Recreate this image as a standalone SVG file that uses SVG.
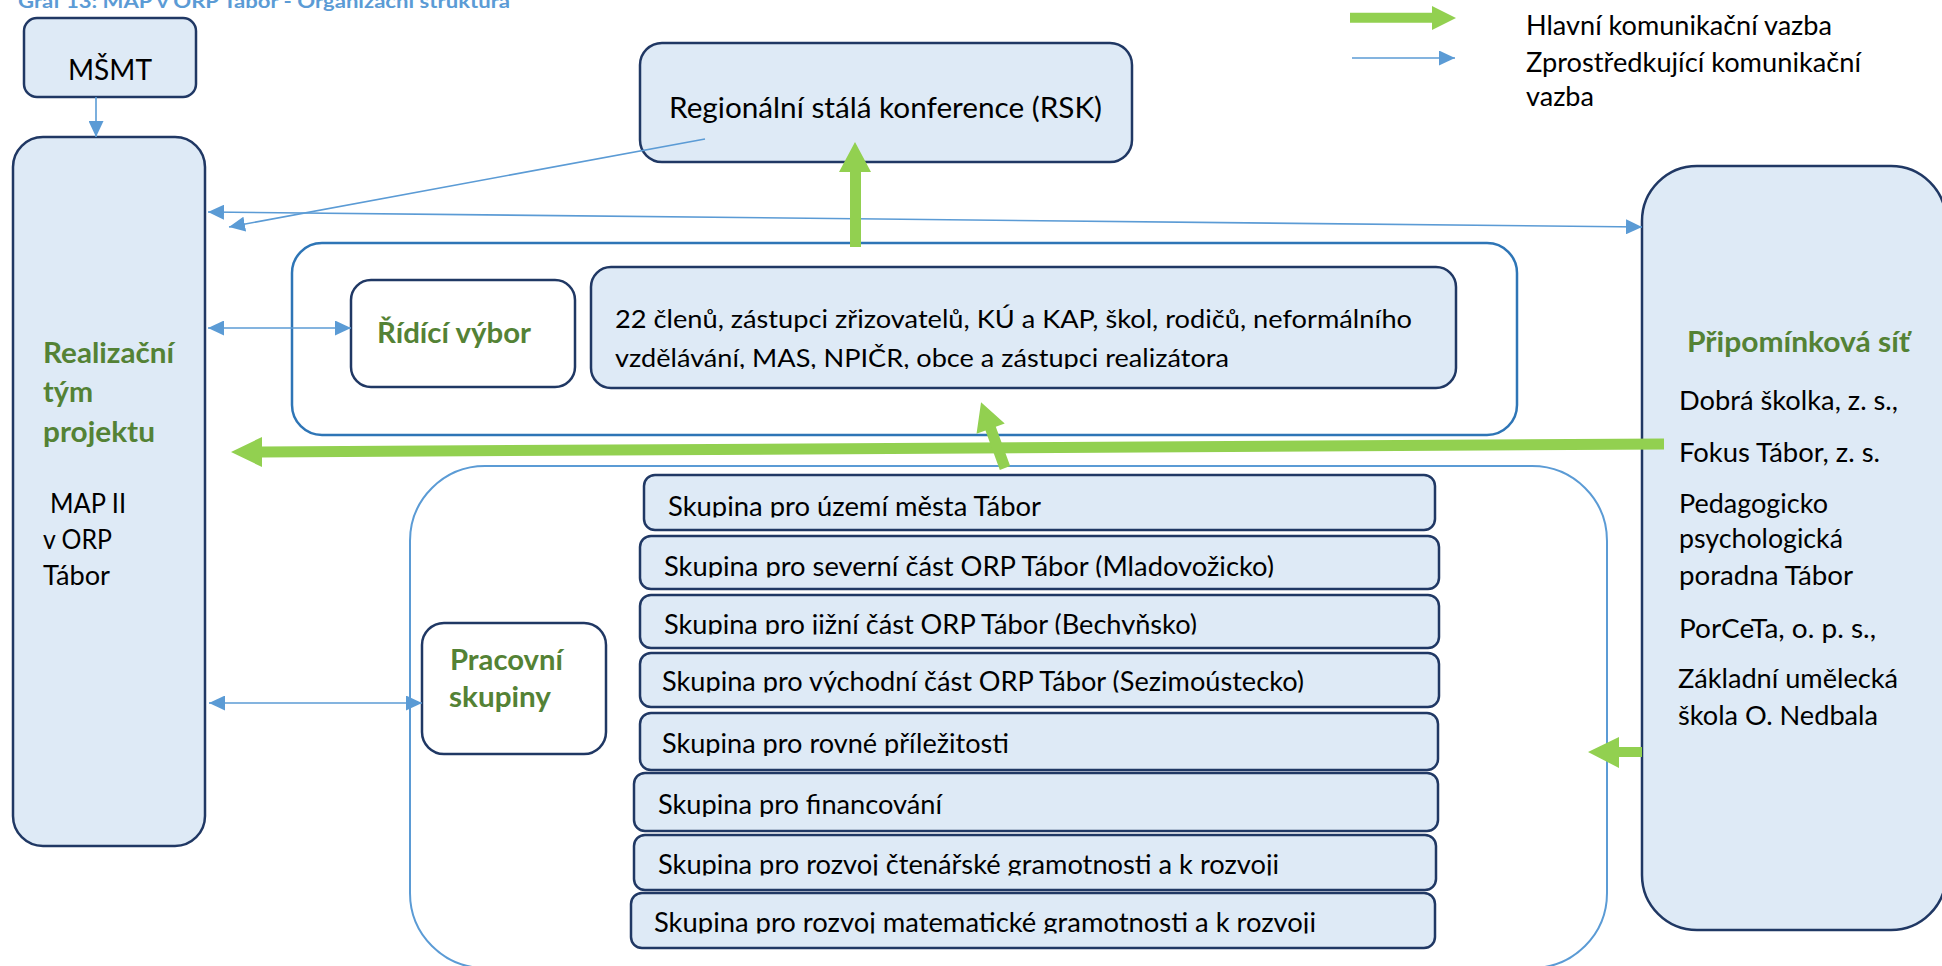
<svg xmlns="http://www.w3.org/2000/svg" width="1942" height="966" viewBox="0 0 1942 966">
<style>
.box{fill:#DEEAF6;stroke:#203864;stroke-width:2.5}
.wbox{fill:#FFFFFF;stroke:#203864;stroke-width:2.5}
.cont1{fill:none;stroke:#2E75B6;stroke-width:2.5}
.cont2{fill:none;stroke:#5B9BD5;stroke-width:2}
.t{font-family:Lato,"Open Sans","Liberation Sans",sans-serif;fill:#000000}
.g{font-family:Lato,"Open Sans","Liberation Sans",sans-serif;font-weight:700;fill:#548235}
.blue{stroke:#5B9BD5;stroke-width:1.6;fill:none}
.green{fill:#92D050}
</style>
<defs>
<marker id="ah" markerUnits="userSpaceOnUse" markerWidth="16" markerHeight="15" refX="16" refY="7.5" orient="auto-start-reverse" viewBox="0 0 16 15">
<path d="M0,0 L16,7.5 L0,15 z" fill="#5B9BD5"/>
</marker>
<clipPath id="c0"><rect x="590" y="340" width="870" height="29"/></clipPath>
<clipPath id="c1"><rect x="640" y="480" width="800" height="37.5"/></clipPath>
<clipPath id="c2"><rect x="640" y="540" width="800" height="37.5"/></clipPath>
<clipPath id="c3"><rect x="640" y="598" width="800" height="36.5"/></clipPath>
<clipPath id="c4"><rect x="640" y="655" width="800" height="37.5"/></clipPath>
<clipPath id="c5"><rect x="640" y="715" width="800" height="41"/></clipPath>
<clipPath id="c6"><rect x="634" y="776" width="800" height="41"/></clipPath>
<clipPath id="c7"><rect x="634" y="838" width="800" height="37.5"/></clipPath>
<clipPath id="c8"><rect x="631" y="896" width="800" height="37.5"/></clipPath>
</defs>

<text class="g" x="18" y="8" font-size="19" style="fill:#5B9BD5" textLength="492" lengthAdjust="spacingAndGlyphs">Graf 13: MAP v ORP Tábor - Organizační struktura</text>

<g id="legend">
<polygon class="green" points="1350,12.7 1432,12.7 1432,6 1456,18 1432,30 1432,22.7 1350,22.7"/>
<line class="blue" x1="1352" y1="58" x2="1455" y2="58" marker-end="url(#ah)"/>
<text class="t" x="1526" y="35" font-size="26" textLength="306" lengthAdjust="spacingAndGlyphs">Hlavní komunikační vazba</text>
<text class="t" x="1526" y="72" font-size="26" textLength="335" lengthAdjust="spacingAndGlyphs">Zprostředkující komunikační</text>
<text class="t" x="1526" y="106" font-size="26" textLength="68" lengthAdjust="spacingAndGlyphs">vazba</text>
</g>

<g id="containers">
<rect id="ridici-container" class="cont1" x="292" y="243" width="1225" height="192" rx="30"/>
<rect id="pracovni-container" class="cont2" x="410" y="466" width="1197" height="502" rx="75"/>
</g>

<g id="msmt">
<rect class="box" x="24" y="18" width="172" height="79" rx="13"/>
<text class="t" x="68" y="80" font-size="29" textLength="84" lengthAdjust="spacingAndGlyphs">MŠMT</text>
</g>

<g id="rsk">
<rect class="box" x="640" y="43" width="492" height="119" rx="22"/>
<text class="t" x="669" y="118" font-size="29" textLength="433" lengthAdjust="spacingAndGlyphs">Regionální stálá konference (RSK)</text>
</g>

<g id="realizacni-tym">
<rect class="box" x="13" y="137" width="192" height="709" rx="30"/>
<text class="g" x="43" y="363" font-size="28.5" textLength="131" lengthAdjust="spacingAndGlyphs">Realizační</text>
<text class="g" x="43" y="402" font-size="28.5" textLength="50" lengthAdjust="spacingAndGlyphs">tým</text>
<text class="g" x="43" y="442" font-size="28.5" textLength="112" lengthAdjust="spacingAndGlyphs">projektu</text>
<text class="t" x="50" y="513" font-size="26" textLength="76" lengthAdjust="spacingAndGlyphs">MAP II</text>
<text class="t" x="43" y="549" font-size="26" textLength="69" lengthAdjust="spacingAndGlyphs">v ORP</text>
<text class="t" x="43" y="585" font-size="26" textLength="67" lengthAdjust="spacingAndGlyphs">Tábor</text>
</g>

<g id="ridici-vybor">
<rect class="wbox" x="351" y="280" width="224" height="107" rx="20"/>
<text class="g" x="377" y="343" font-size="28.5" textLength="154" lengthAdjust="spacingAndGlyphs">Řídící výbor</text>
</g>

<g id="clenove">
<rect class="box" x="591" y="267" width="865" height="121" rx="20"/>
<text class="t" x="615" y="328" font-size="25.5" textLength="797" lengthAdjust="spacingAndGlyphs">22 členů, zástupci zřizovatelů, KÚ a KAP, škol, rodičů, neformálního</text>
<text class="t" x="615" y="367" font-size="25.5" textLength="614" lengthAdjust="spacingAndGlyphs" clip-path="url(#c0)">vzdělávání, MAS, NPIČR, obce a zástupci realizátora</text>
</g>

<g id="pracovni-skupiny">
<rect class="wbox" x="422" y="623" width="184" height="131" rx="22"/>
<text class="g" x="450" y="670" font-size="28.5" textLength="113" lengthAdjust="spacingAndGlyphs">Pracovní</text>
<text class="g" x="449" y="707" font-size="28.5" textLength="102" lengthAdjust="spacingAndGlyphs">skupiny</text>
</g>

<g id="skupina-1">
<rect class="box" x="644" y="475" width="791" height="55" rx="11"/>
<text class="t" x="668" y="516" font-size="26" textLength="373" lengthAdjust="spacingAndGlyphs" clip-path="url(#c1)">Skupina pro území města Tábor</text>
</g>
<g id="skupina-2">
<rect class="box" x="640" y="536" width="799" height="53" rx="11"/>
<text class="t" x="664" y="576" font-size="26" textLength="610" lengthAdjust="spacingAndGlyphs" clip-path="url(#c2)">Skupina pro severní část ORP Tábor (Mladovožicko)</text>
</g>
<g id="skupina-3">
<rect class="box" x="640" y="595" width="799" height="53" rx="11"/>
<text class="t" x="664" y="634" font-size="26" textLength="533" lengthAdjust="spacingAndGlyphs" clip-path="url(#c3)">Skupina pro jižní část ORP Tábor (Bechyňsko)</text>
</g>
<g id="skupina-4">
<rect class="box" x="640" y="653" width="799" height="54" rx="11"/>
<text class="t" x="662" y="691" font-size="26" textLength="642" lengthAdjust="spacingAndGlyphs" clip-path="url(#c4)">Skupina pro východní část ORP Tábor (Sezimoústecko)</text>
</g>
<g id="skupina-5">
<rect class="box" x="640" y="713" width="798" height="57" rx="11"/>
<text class="t" x="662" y="753" font-size="26" textLength="347" lengthAdjust="spacingAndGlyphs" clip-path="url(#c5)">Skupina pro rovné příležitosti</text>
</g>
<g id="skupina-6">
<rect class="box" x="634" y="773" width="804" height="58" rx="11"/>
<text class="t" x="658" y="814" font-size="26" textLength="284" lengthAdjust="spacingAndGlyphs" clip-path="url(#c6)">Skupina pro financování</text>
</g>
<g id="skupina-7">
<rect class="box" x="634" y="835" width="802" height="55" rx="11"/>
<text class="t" x="658" y="874" font-size="26" textLength="621" lengthAdjust="spacingAndGlyphs" clip-path="url(#c7)">Skupina pro rozvoj čtenářské gramotnosti a k rozvoji</text>
</g>
<g id="skupina-8">
<rect class="box" x="631" y="893" width="804" height="55" rx="11"/>
<text class="t" x="654" y="932" font-size="26" textLength="662" lengthAdjust="spacingAndGlyphs" clip-path="url(#c8)">Skupina pro rozvoj matematické gramotnosti a k rozvoji</text>
</g>

<g id="pripominkova-sit">
<rect class="box" x="1642" y="166" width="304" height="764" rx="55"/>
<text class="g" x="1687" y="352" font-size="28.5" textLength="223" lengthAdjust="spacingAndGlyphs">Připomínková síť</text>
<text class="t" x="1679" y="410" font-size="26.5" textLength="219" lengthAdjust="spacingAndGlyphs">Dobrá školka, z. s.,</text>
<text class="t" x="1679" y="462" font-size="26.5" textLength="201" lengthAdjust="spacingAndGlyphs">Fokus Tábor, z. s.</text>
<text class="t" x="1679" y="513" font-size="26.5" textLength="149" lengthAdjust="spacingAndGlyphs">Pedagogicko</text>
<text class="t" x="1679" y="548" font-size="26.5" textLength="164" lengthAdjust="spacingAndGlyphs">psychologická</text>
<text class="t" x="1679" y="585" font-size="26.5" textLength="174" lengthAdjust="spacingAndGlyphs">poradna Tábor</text>
<text class="t" x="1679" y="638" font-size="26.5" textLength="197" lengthAdjust="spacingAndGlyphs">PorCeTa, o. p. s.,</text>
<text class="t" x="1678" y="688" font-size="26.5" textLength="220" lengthAdjust="spacingAndGlyphs">Základní umělecká</text>
<text class="t" x="1678" y="725" font-size="26.5" textLength="200" lengthAdjust="spacingAndGlyphs">škola O. Nedbala</text>
</g>

<g id="connectors">
<line class="blue" x1="96" y1="97" x2="96" y2="137" marker-end="url(#ah)"/>
<line class="blue" x1="208" y1="212" x2="1642" y2="227" marker-start="url(#ah)" marker-end="url(#ah)"/>
<line class="blue" x1="705" y1="139" x2="229" y2="227" marker-end="url(#ah)"/>
<line class="blue" x1="208" y1="328" x2="351" y2="328" marker-start="url(#ah)" marker-end="url(#ah)"/>
<line class="blue" x1="209" y1="703" x2="422" y2="703" marker-start="url(#ah)" marker-end="url(#ah)"/>
<polygon class="green" points="850,247 850,172 839,172 855,142 871,172 861,172 861,247"/>
<polygon class="green" points="1664,438.5 262,446.5 262,437 231,452 262,467 262,457.5 1664,449.5"/>
<polygon class="green" transform="translate(1005,468) rotate(-110)" points="0,-5.5 42,-5.5 42,-15 70,0 42,15 42,5.5 0,5.5"/>
<polygon class="green" points="1642,747 1619,747 1619,737 1588,752 1619,768 1619,757 1642,757"/>
</g>
</svg>
